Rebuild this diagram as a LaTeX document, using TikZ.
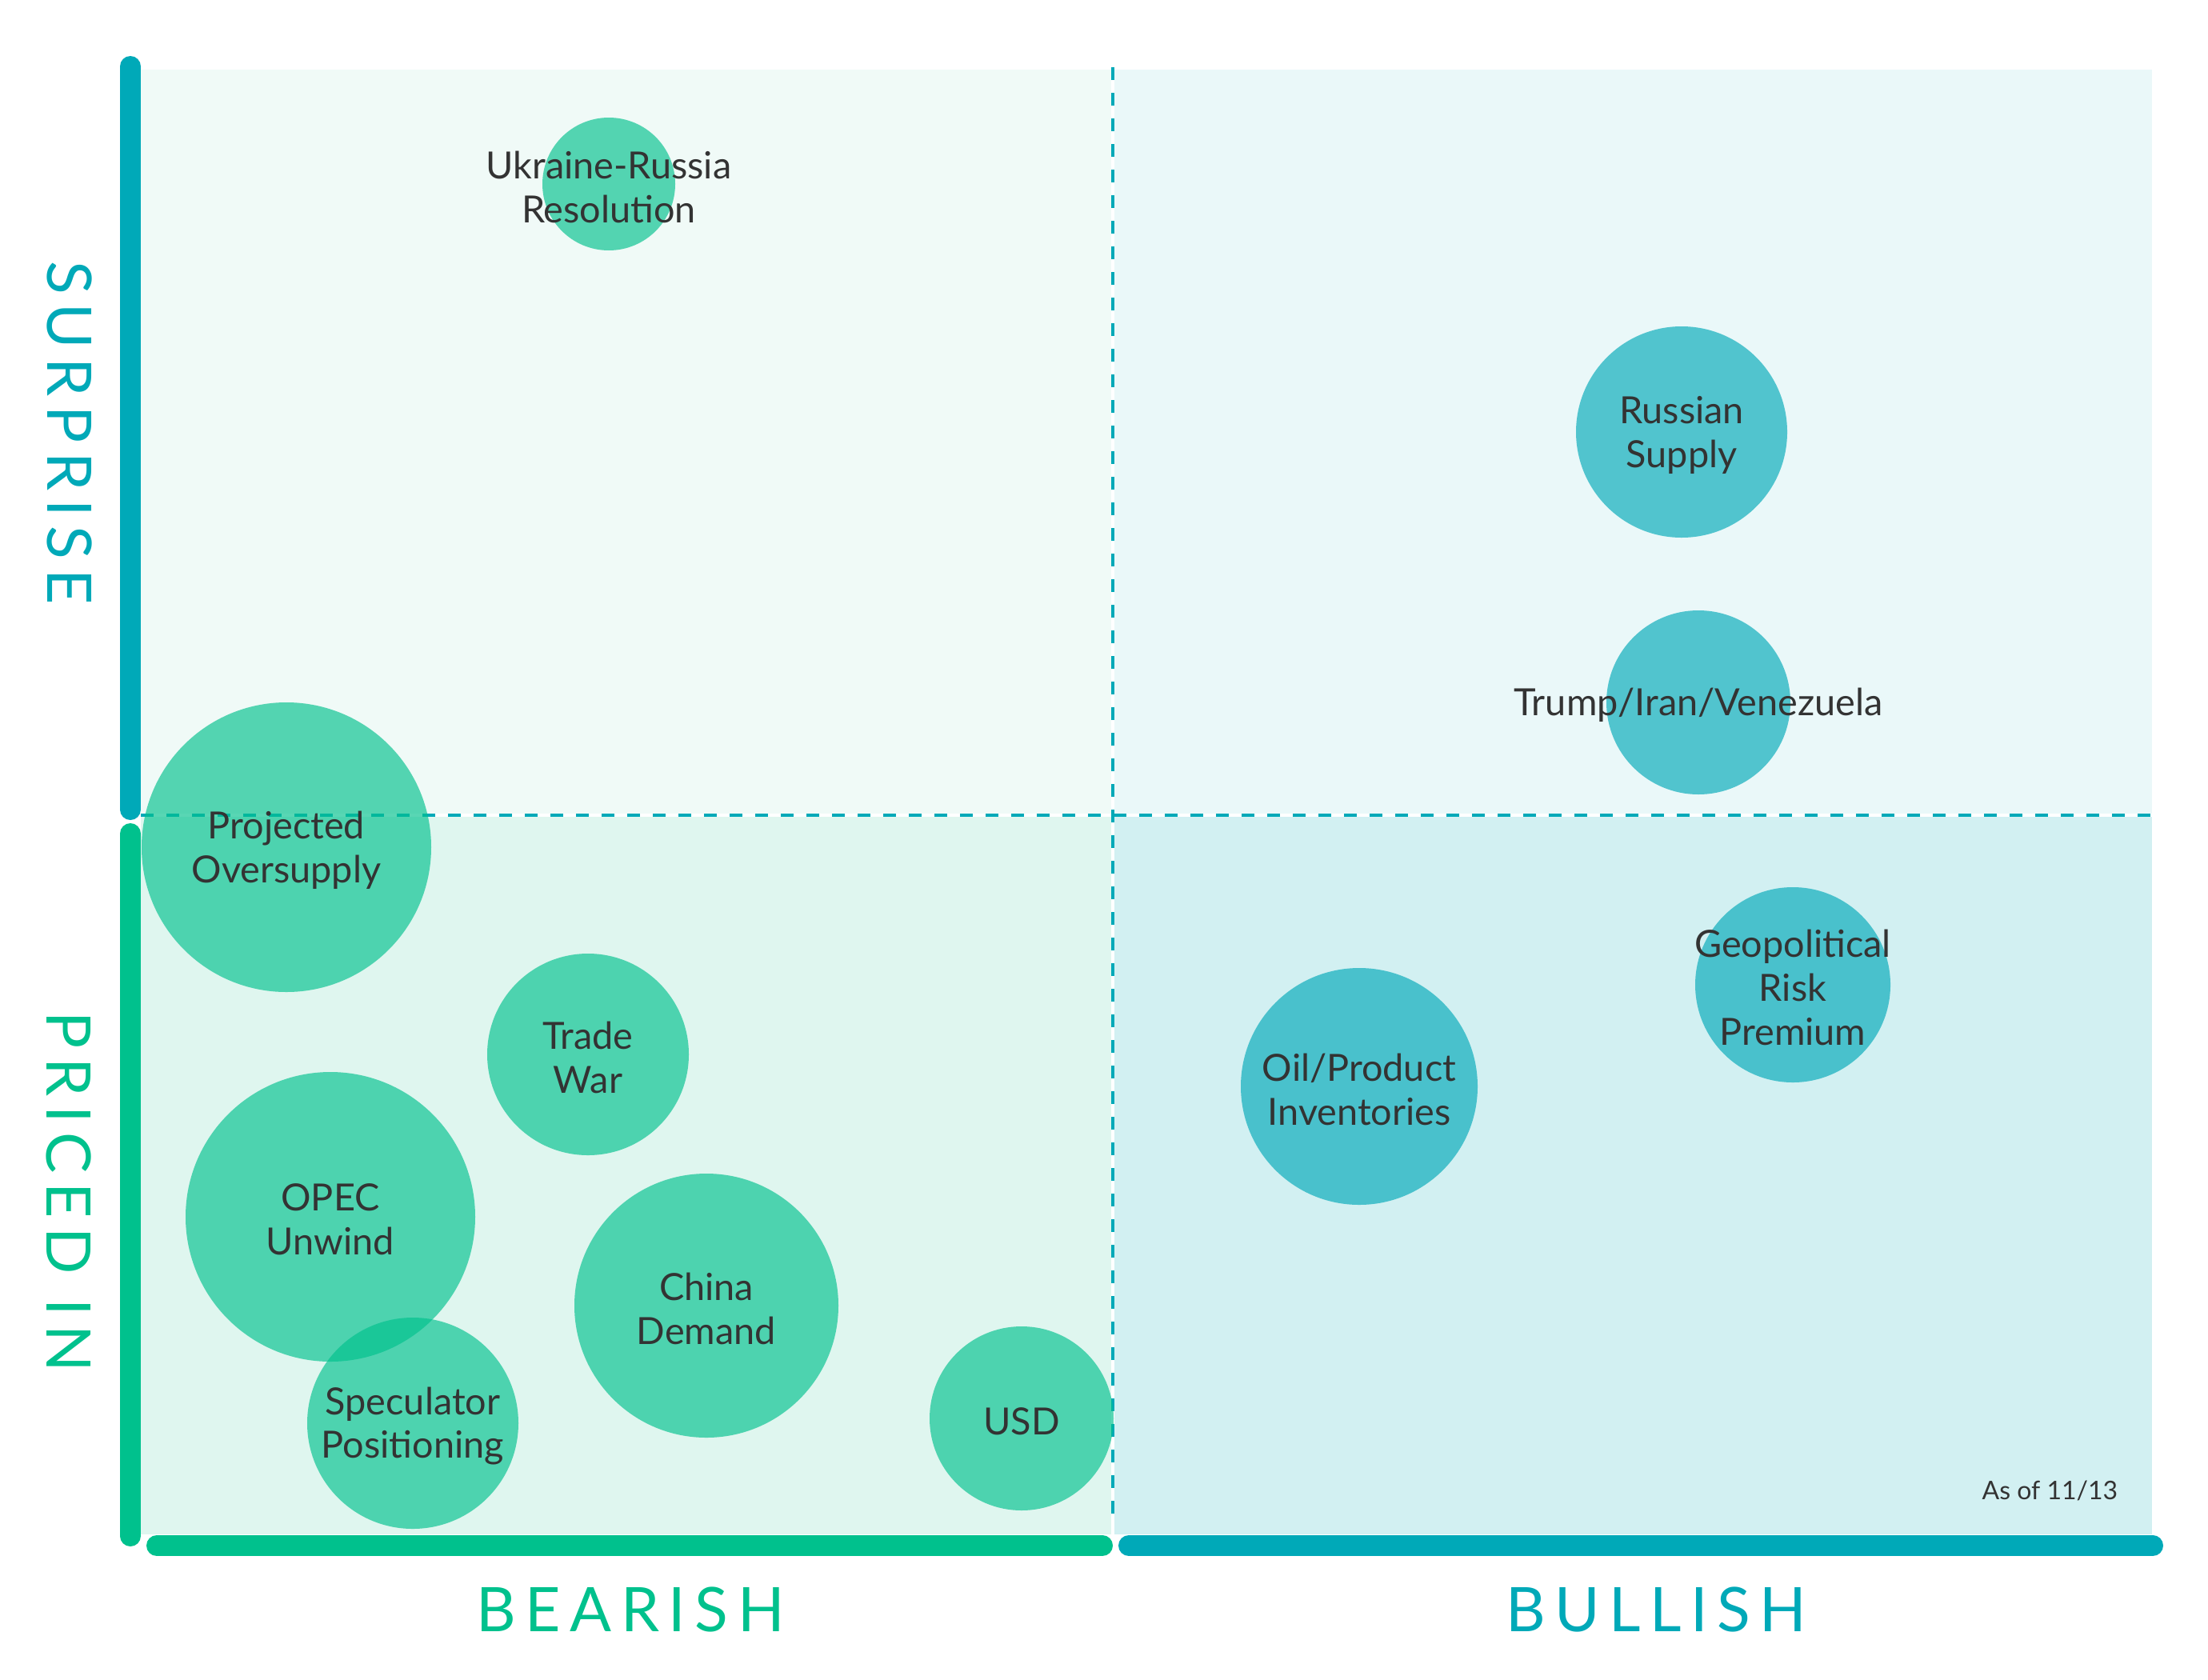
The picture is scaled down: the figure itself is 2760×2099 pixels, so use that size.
\documentclass[tikz,border=0pt]{standalone}
\usepackage{fontspec}
\setmainfont{Lato}
\newfontfamily\axisfont{Lato}[LetterSpace=15]
\usepackage{tikz}
\definecolor{barteal}{HTML}{00A9B8}
\definecolor{bargreen}{HTML}{00C18D}
\definecolor{ink}{HTML}{333333}
\definecolor{bgTL}{HTML}{F0FAF7}
\definecolor{bgBL}{HTML}{DFF6EF}
\definecolor{bgTR}{HTML}{EAF8F9}
\definecolor{bgBR}{HTML}{D2F0F2}

\begin{document}
\begin{tikzpicture}[x=0.25pt, y=-0.25pt,
    bubble/.style={circle, inner sep=0pt, fill opacity=0.65},
    tag/.style={align=center, text=ink, yshift=-0.9pt, font=\fontsize{11.7}{13.7}\selectfont},
    axislabel/.style={font=\axisfont\fontsize{19.2}{22}\selectfont},
    bar/.style={line width=6.5pt, line cap=round},
    divider/.style={barteal, line width=0.9pt, dash pattern=on 4pt off 4pt}]
    \fill[white] (0,0) rectangle (2760,2099);
    \useasboundingbox (0,0) rectangle (2760,2099);
    % quadrants
    \fill[bgTL] (176,87) rectangle (1389,1017);
    \fill[bgBL] (176,1021) rectangle (1389,1918);
    \fill[bgTR] (1393,87) rectangle (2690,1017);
    \fill[bgBR] (1393,1021) rectangle (2690,1918);
    \draw[divider] (176,1019) -- (2690,1019);
    \draw[divider] (1391,84) -- (1391,1900);
    % axes
    \draw[bar, barteal] (163,83) -- (163,1012);
    \draw[bar, bargreen] (163,1042) -- (163,1920);
    \draw[bar, bargreen] (196,1932) -- (1378,1932);
    \draw[bar, barteal] (1411,1932) -- (2691,1932);
    \node[axislabel, text=barteal, rotate=-90] (surprise) at (87,541) {SURPRISE};
    \node[axislabel, text=bargreen, rotate=-90] (pricedin) at (86,1490) {PRICED IN};
    \node[axislabel, text=bargreen] (bearish) at (788,2012) {BEARISH};
    \node[axislabel, text=barteal] (bullish) at (2070,2012) {BULLISH};
    % bearish bubbles
    \node[bubble, fill=bargreen, minimum size=41.5pt] (ukraine) at (761,230) {};
    \node[bubble, fill=bargreen, minimum size=90.5pt] (oversupply) at (358,1059) {};
    \node[bubble, fill=bargreen, minimum size=63pt] (tradewar) at (735,1318) {};
    \node[bubble, fill=bargreen, minimum size=90.5pt] (opec) at (413,1521) {};
    \node[bubble, fill=bargreen, minimum size=66pt] (speculator) at (516,1779) {};
    \node[bubble, fill=bargreen, minimum size=82.5pt] (china) at (883,1632) {};
    \node[bubble, fill=bargreen, minimum size=57.5pt] (usd) at (1277,1773) {};
    % bullish bubbles
    \node[bubble, fill=barteal, minimum size=66pt] (russian) at (2102,540) {};
    \node[bubble, fill=barteal, minimum size=57.5pt] (trump) at (2123,878) {};
    \node[bubble, fill=barteal, minimum size=74pt] (inventories) at (1699,1358) {};
    \node[bubble, fill=barteal, minimum size=61pt] (geopolitical) at (2241,1231) {};
    % labels
    \node[tag] (ukrainetxt) at (ukraine) {Ukraine-Russia\\Resolution};
    \node[tag] (oversupplytxt) at (oversupply) {Projected\\Oversupply};
    \node[tag] (tradewartxt) at (tradewar) {Trade\\War};
    \node[tag] (opectxt) at (opec) {OPEC\\Unwind};
    \node[tag] (speculatortxt) at (speculator) {Speculator\\Positioning};
    \node[tag] (chinatxt) at (china) {China\\Demand};
    \node[tag] (usdtxt) at (usd) {USD};
    \node[tag] (russiantxt) at (russian) {Russian\\Supply};
    \node[tag] (trumptxt) at (trump) {Trump/Iran/Venezuela};
    \node[tag] (inventoriestxt) at (inventories) {Oil/Product\\Inventories};
    \node[tag] (geopoliticaltxt) at (geopolitical) {Geopolitical\\Risk\\Premium};
    \node[anchor=base east, inner sep=0pt, text=ink, font=\fontsize{8}{10}\selectfont] (asof) at (2648,1874) {As of 11/13};
\end{tikzpicture}
\end{document}
